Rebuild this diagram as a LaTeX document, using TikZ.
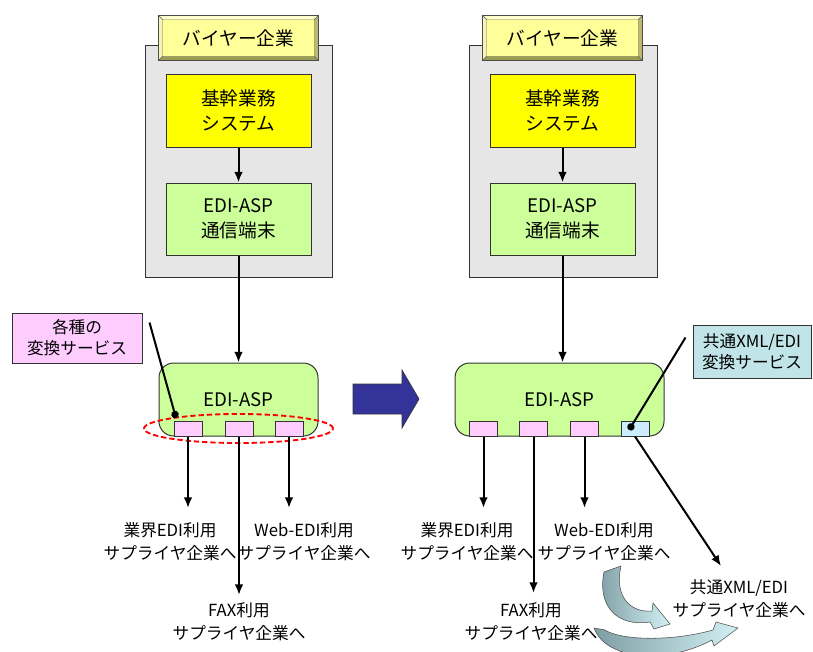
\documentclass[tikz,border=0pt]{standalone}
\usepackage{fontspec}
\setmainfont{Noto Sans CJK JP}
\usetikzlibrary{shapes.geometric,arrows.meta}

\definecolor{panelgray}{HTML}{E6E6E6}
\definecolor{titlefill}{HTML}{FFFF99}
\definecolor{bevlight}{HTML}{FFFFCC}
\definecolor{bevside}{HTML}{F4F4B4}
\definecolor{bevdark}{HTML}{9C9C50}
\definecolor{bevmid}{HTML}{BABA6A}
\definecolor{coreyellow}{HTML}{FFFF00}
\definecolor{termgreen}{HTML}{CCFF99}
\definecolor{portpink}{HTML}{FFCCFF}
\definecolor{portblue}{HTML}{CCECFF}
\definecolor{xmlcyan}{HTML}{C0E4E8}
\definecolor{bignavy}{HTML}{333399}
\definecolor{sweepdark}{HTML}{7F9EA4}
\definecolor{sweeplight}{HTML}{D2F0F4}

% beveled frame round a title node
\newcommand\bevel[1]{%
  \filldraw[fill=bevlight,draw=black!60,line width=0.3pt] (#1.north west) -- (#1.north east) -- ([xshift=-3pt,yshift=-3pt]#1.north east) -- ([xshift=3pt,yshift=-3pt]#1.north west) -- cycle;
  \filldraw[fill=bevside,draw=black!60,line width=0.3pt] (#1.north west) -- ([xshift=3pt,yshift=-3pt]#1.north west) -- ([xshift=3pt,yshift=3pt]#1.south west) -- (#1.south west) -- cycle;
  \filldraw[fill=bevdark,draw=black!60,line width=0.3pt] (#1.south west) -- ([xshift=3pt,yshift=3pt]#1.south west) -- ([xshift=-3pt,yshift=3pt]#1.south east) -- (#1.south east) -- cycle;
  \filldraw[fill=bevmid,draw=black!60,line width=0.3pt] (#1.north east) -- (#1.south east) -- ([xshift=-3pt,yshift=3pt]#1.south east) -- ([xshift=-3pt,yshift=-3pt]#1.north east) -- cycle;
  \draw[black!70,line width=0.5pt] (#1.north west) rectangle (#1.south east);}

\begin{document}
\begin{tikzpicture}[x=0.75pt,y=-0.75pt,>={Latex[length=8pt,width=6.5pt]},
  panel/.style={draw=black!80,fill=panelgray,line width=0.75pt,minimum height=174pt,inner sep=0pt},
  title/.style={fill=titlefill,minimum width=119.25pt,minimum height=33pt,inner sep=0pt,font=\fontsize{14pt}{18pt}\selectfont},
  core/.style={draw=black!80,fill=coreyellow,line width=0.75pt,minimum width=108.75pt,minimum height=54.75pt,inner sep=0pt,align=center,font=\fontsize{14pt}{18.75pt}\selectfont},
  term/.style={core,fill=termgreen,minimum height=54pt},
  asp/.style={draw=black!80,fill=termgreen,rounded corners=11pt,line width=0.75pt,minimum height=54.75pt,inner sep=0pt,font=\fontsize{14pt}{18pt}\selectfont},
  port/.style={draw=black!80,fill=portpink,line width=0.75pt,minimum width=21pt,minimum height=11.25pt,inner sep=0pt},
  note/.style={draw=black!80,line width=0.75pt,inner sep=0pt,align=center,font=\fontsize{12.5pt}{15.75pt}\selectfont},
  dest/.style={align=center,inner sep=0pt,font=\fontsize{12.5pt}{17.25pt}\selectfont},
  link/.style={line width=1.5pt}]
\useasboundingbox (0,0) rectangle (813,651);

% left: before
\node[panel,minimum width=140.25pt] (panelL) at (238.5,161) {};
\node[title] (buyerL) at (238.5,38) {バイヤー企業};
\bevel{buyerL}
\node[core] (coreL) at (238.5,110.5) {基幹業務\\システム};
\node[term] (termL) at (238.5,219) {EDI-ASP\\通信端末};
\node[asp,minimum width=119.25pt] (aspL) at (238.5,399.5) {EDI-ASP};
\node[port] (L1) at (188,428.5) {};
\node[port] (L2) at (239,428.5) {};
\node[port] (L3) at (289,428.5) {};
\node[draw=red,dash pattern=on 4pt off 2.2pt,line width=1.4pt,ellipse,minimum width=141.75pt,minimum height=21.75pt,inner sep=0pt] (ringL) at (238.5,428.5) {};
\node[note,fill=portpink,minimum width=97.5pt,minimum height=37.5pt] (convL) at (77,338) {各種の\\変換サービス};

\draw[link,->] (coreL) -- (termL);
\draw[link,->] (termL) -- (aspL);

\node[dest] (indL) at (170,541.5) {業界EDI利用\\サプライヤ企業へ};
\node[dest] (webL) at (304,541.5) {Web-EDI利用\\サプライヤ企業へ};
\node[dest] (faxL) at (239,621.5) {FAX利用\\サプライヤ企業へ};
\coordinate (L1e) at (188,508);
\coordinate (L2e) at (239,595);
\coordinate (L3e) at (289,508);
\draw[link,->] (L1.south) -- (L1e);
\draw[link,->] (L2.south) -- (L2e);
\draw[link,->] (L3.south) -- (L3e);
\coordinate (dotL) at (176,418);
\draw[link,-{Circle[length=5.5pt]}] ([xshift=5.25pt,yshift=-7.5pt]convL.north east) -- (dotL);

% change over
\filldraw[fill=bignavy,draw=black!80,line width=0.5pt] (353,384) -- (402,384) -- (402,370) -- (419,399) -- (402,428) -- (402,414) -- (353,414) -- cycle;

% right: after
\node[panel,minimum width=141pt] (panelR) at (563,161) {};
\node[title] (buyerR) at (562.5,38) {バイヤー企業};
\bevel{buyerR}
\node[core] (coreR) at (562.5,110.5) {基幹業務\\システム};
\node[term] (termR) at (562.5,219) {EDI-ASP\\通信端末};
\node[asp,minimum width=156.75pt] (aspR) at (559.5,399.5) {EDI-ASP};
\node[port] (R1) at (483.5,428.5) {};
\node[port] (R2) at (533.5,428.5) {};
\node[port] (R3) at (584.5,428.5) {};
\node[port,fill=portblue] (R4) at (635,428.5) {};
\node[note,fill=xmlcyan,minimum width=88.5pt,minimum height=39.75pt] (xmlR) at (752,351.5) {共通XML/EDI\\変換サービス};

\draw[link,->] (coreR) -- (termR);
\draw[link,->] (termR.south) -- (termR.south |- aspR.north);

\node[dest] (indR) at (467,541.5) {業界EDI利用\\サプライヤ企業へ};
\node[dest] (webR) at (604,541.5) {Web-EDI利用\\サプライヤ企業へ};
\node[dest] (faxR) at (531,621.5) {FAX利用\\サプライヤ企業へ};
\node[dest] (xmlsupR) at (739,599) {共通XML/EDI\\サプライヤ企業へ};
\coordinate (R1e) at (483.5,508);
\coordinate (R2e) at (533.5,593);
\coordinate (R3e) at (584.5,508);
\coordinate (R4e) at (721,566);
\draw[link,->] (R1.south) -- (R1e);
\draw[link,->] (R2.south) -- (R2e);
\draw[link,->] (R3.south) -- (R3e);
\draw[link,->] (R4.south) -- (R4e);
\coordinate (dotR) at (629,430);
\draw[link,-{Circle[length=5.5pt]}] ([xshift=-5.25pt,yshift=-9.75pt]xmlR.north west) -- (dotR);

% migration sweeps
\shade[left color=sweepdark,right color=sweeplight,draw=black!70,line width=0.4pt]
  (604,572) .. controls (597,607) and (618,627) .. (650,622) -- (654,629) -- (670,624) -- (653,603)
  -- (652,611) .. controls (630,613) and (614,596) .. (621,566) -- cycle;
\shade[left color=sweepdark,right color=sweeplight,draw=black!70,line width=0.4pt]
  (594,628) .. controls (606,660) and (665,665) .. (712,640) -- (714,646) -- (738,628)
  -- (716,622) -- (713,630) .. controls (670,642) and (620,640) .. (605,630) -- cycle;
\end{tikzpicture}
\end{document}
